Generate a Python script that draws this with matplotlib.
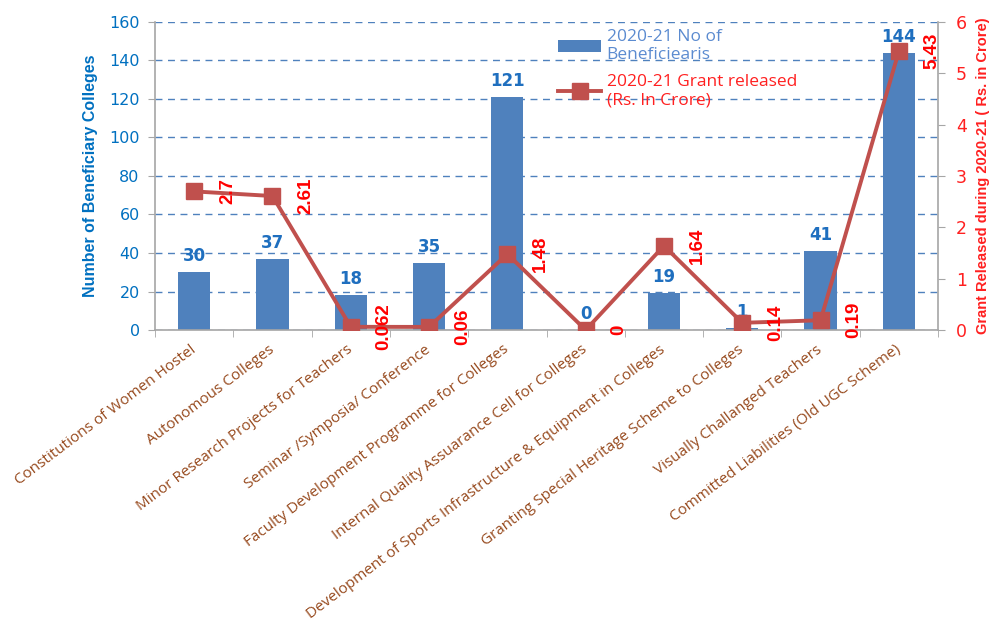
import numpy as np
import matplotlib
matplotlib.use('Agg')
import matplotlib.pyplot as plt

# -------------------------------
# data

categories = ['Constitutions of Women Hostel',
              'Autonomous Colleges',
              'Minor Research Projects for Teachers',
              'Seminar /Symposia/ Conference',
              'Faculty Development Programme for Colleges',
              'Internal Quality Assuarance Cell for Colleges',
              'Development of Sports Infrastructure & Equipment in Colleges',
              'Granting Special Heritage Scheme to Colleges',
              'Visually Challanged Teachers',
              'Committed Liabilities (Old UGC Scheme)']
beneficiaries = [30, 37, 18, 35, 121, 0, 19, 1, 41, 144]
grant = [2.7, 2.61, 0.062, 0.06, 1.48, 0, 1.64, 0.14, 0.19, 5.43]
grant_labels = ['2.7', '2.61', '0.062', '0.06', '1.48', '0', '1.64', '0.14', '0.19', '5.43']

left_ticks = np.arange(0, 161, 20)
right_ticks = np.arange(0, 7, 1)

bar_col = '#4F81BD'
line_col = '#C0504D'
grey = '#A6A6A6'
narrow = ['Liberation Sans Narrow', 'Liberation Sans', 'DejaVu Sans']

# -------------------------------

fig = plt.figure(figsize=(9.98, 6.26), dpi=100)
ax1 = fig.add_axes([155/998, 1-330/626, 783/998, 308/626])

x = np.arange(len(categories))
bars = ax1.bar(x, beneficiaries, width=0.41, color=bar_col, zorder=2)

ax1.set_xlim(-0.5, len(categories)-0.5)
ax1.set_ylim(0, 160)
ax1.set_yticks(left_ticks)
ax1.yaxis.grid(True, linestyle=(0, (5, 4)), color=bar_col, lw=1)
ax1.set_axisbelow(True)

ax1.set_xticks(x, categories, rotation=37, ha='right', va='center', rotation_mode='anchor',
               fontfamily='Open Sans', fontsize=11, color='#974A1E')
ax1.set_xticks(np.arange(-0.5, len(categories), 1), minor=True)
ax1.tick_params(axis='x', which='major', length=0, pad=13)
ax1.tick_params(axis='x', which='minor', length=5, color=grey)
ax1.tick_params(axis='y', length=5, color=grey, labelcolor='#0070C0', labelsize=11.5, pad=6)

ax1.set_ylabel('Number of Beneficiary Colleges', color='#0070C0', fontsize=11.5,
               fontweight='bold', family=narrow, labelpad=8)

for sp in ['top', 'right']:
    ax1.spines[sp].set_visible(False)
for sp in ['left', 'bottom']:
    ax1.spines[sp].set_color(grey)
    ax1.spines[sp].set_linewidth(1.2)

for xi, v in zip(x, beneficiaries):
    ax1.annotate(str(v), (xi, v), xytext=(0, 5), textcoords='offset points',
                 ha='center', va='bottom', color='#1F6FBF', fontweight='bold', fontsize=12)

# -------------------------------
# grant released on the right axis

ax2 = ax1.twinx()
line, = ax2.plot(x, grant, color=line_col, lw=2.8, marker='s', ms=11,
                 mfc=line_col, mec=line_col, zorder=3)
ax2.set_ylim(0, 6)
ax2.set_yticks(right_ticks)
ax2.tick_params(axis='y', length=5, color=grey, labelcolor='#FF2020', labelsize=12.5, pad=8)
ax2.set_ylabel('Grant Released during 2020-21 ( Rs. in Crore)', color='#FF2020', fontsize=10.5,
               fontweight='bold', family=narrow, labelpad=6)

for sp in ['top', 'left', 'bottom']:
    ax2.spines[sp].set_visible(False)
ax2.spines['right'].set_color(grey)
ax2.spines['right'].set_linewidth(1.2)

for xi, g, lbl in zip(x, grant, grant_labels):
    ax2.annotate(lbl, (xi, g), xytext=(24, 0), textcoords='offset points', rotation=90,
                 ha='center', va='center', color='#FF0000', fontweight='bold',
                 fontsize=13.5, family=narrow)

leg = ax2.legend([bars, line], ['2020-21 No of\nBeneficiearis', '2020-21 Grant released\n(Rs. In Crore)'],
                 loc='upper left', bbox_to_anchor=(558/998, 1-29/626), bbox_transform=fig.transFigure,
                 frameon=False, prop={'family': 'Open Sans', 'size': 12.5}, handlelength=2.5,
                 handletextpad=0.3, labelspacing=0.6, borderpad=0, borderaxespad=0)
leg.get_texts()[0].set_color('#5B8BD0')
leg.get_texts()[1].set_color('#FF2020')

plt.savefig('out.png', dpi=100)
plt.close('all')
